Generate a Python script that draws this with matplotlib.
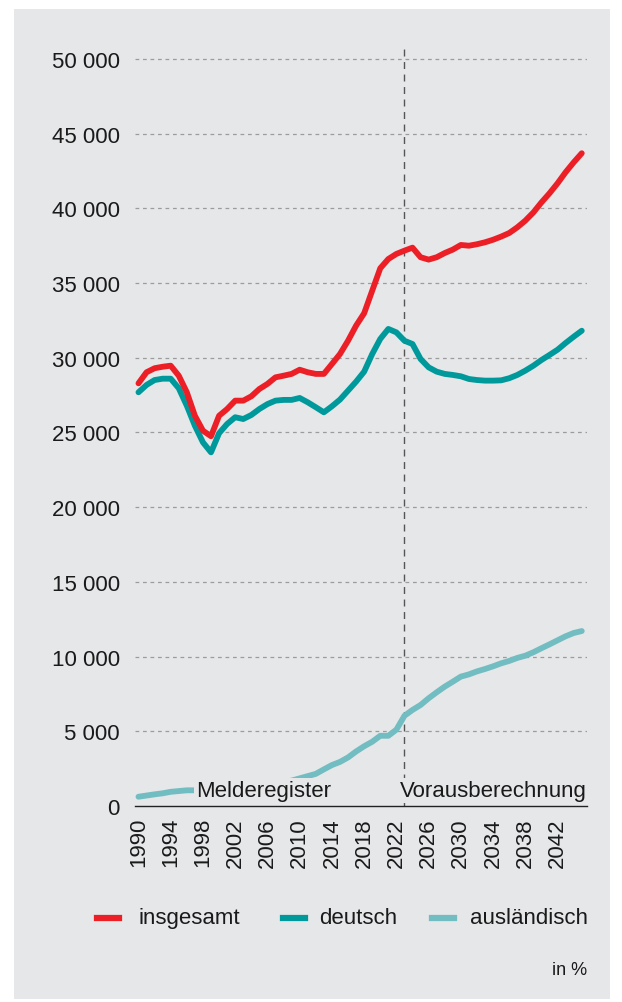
"""
Bevölkerung nach Staatsangehörigkeit, 1990-2045
"""
import matplotlib
matplotlib.use("Agg")
import matplotlib.pyplot as plt
from matplotlib.patches import Rectangle
from matplotlib.ticker import FuncFormatter

# Daten
years = list(range(1990, 2046))
insgesamt = [
    28290, 29030, 29300, 29400, 29470, 28800, 27690, 26120, 25120, 24750,
    26120, 26570, 27130, 27130, 27420, 27910, 28250, 28690, 28800, 28920,
    29200, 29030, 28920, 28920, 29580, 30250, 31140, 32150, 32980, 34490,
    35990, 36610, 36950, 37170, 37370, 36730, 36570, 36730, 37010, 37240,
    37550, 37500, 37600, 37730, 37900, 38110, 38350, 38730, 39180, 39730,
    40400, 41010, 41680, 42420, 43080, 43690,
]
deutsch = [
    27690, 28180, 28510, 28600, 28600, 27960, 26790, 25450, 24340, 23670,
    24950, 25570, 26020, 25900, 26170, 26570, 26900, 27130, 27180, 27180,
    27310, 27020, 26690, 26350, 26750, 27200, 27800, 28400, 29070, 30250,
    31260, 31930, 31700, 31140, 30920, 29920, 29360, 29070, 28920, 28850,
    28760, 28580, 28510, 28470, 28470, 28490, 28630, 28850, 29140, 29470,
    29850, 30190, 30540, 30990, 31410, 31810,
]
auslaendisch = [
    620, 700, 780, 850, 950, 1000, 1050, 1050, 1050, 1100,
    1150, 1200, 1250, 1300, 1300, 1350, 1400, 1500, 1600, 1700,
    1850, 2000, 2150, 2450, 2740, 2950, 3250, 3650, 4000, 4300,
    4700, 4700, 5110, 6040, 6430, 6760, 7210, 7610, 7990, 8320,
    8660, 8810, 9010, 9170, 9350, 9550, 9710, 9910, 10060, 10290,
    10560, 10820, 11090, 11360, 11580, 11710,
]
year_ticks = list(range(1990, 2043, 4))
y_ticks = list(range(0, 50001, 5000))
prognose_start = 2023

BG = "#e6e7e9"
C_INS = "#ec1f27"
C_DE = "#00999b"
C_AUS = "#72bdc1"
TXT = "#1a1a1a"

plt.rcParams["font.family"] = ["Liberation Sans", "DejaVu Sans"]

W, H = 622, 1003
fig = plt.figure(figsize=(W / 100, H / 100), dpi=100)
fig.patch.set_facecolor("white")
fig.add_artist(Rectangle((14 / W, 1 - 1000 / H), (610 - 14) / W, (1000 - 10) / H,
                         transform=fig.transFigure, facecolor=BG, edgecolor="none", zorder=0))

ax = fig.add_axes([135 / W, 1 - 807 / H, (587 - 135) / W, (807 - 48) / H])
ax.set_facecolor(BG)
ax.patch.set_alpha(0)

ax.plot(years, auslaendisch, color=C_AUS, lw=4.2, solid_capstyle="round", zorder=3)
ax.plot(years, deutsch, color=C_DE, lw=4.2, solid_capstyle="round", zorder=4)
ax.plot(years, insgesamt, color=C_INS, lw=4.2, solid_capstyle="round", zorder=5)

ax.set_xlim(1989.57, 2045.65)
ax.set_ylim(0, 50800)

for y in y_ticks[1:]:
    ax.axhline(y, color="#9c9c9c", lw=0.9, ls=(0, (3, 3)), zorder=1)
ax.axvline(prognose_start, color="#555555", lw=1.0, ls=(0, (5, 4)), zorder=2)

ax.set_yticks(y_ticks)
ax.yaxis.set_major_formatter(FuncFormatter(lambda v, p: f"{int(v):,}".replace(",", " ")))
ax.set_xticks(year_ticks)
ax.set_xticklabels([str(y) for y in year_ticks], rotation=90)
ax.tick_params(axis="both", length=0, labelsize=16, colors=TXT)
ax.tick_params(axis="y", pad=11)
ax.tick_params(axis="x", pad=8)

for s in ["top", "right", "left"]:
    ax.spines[s].set_visible(False)
ax.spines["bottom"].set_color("#222222")
ax.spines["bottom"].set_linewidth(1.0)
ax.spines["bottom"].set_zorder(6)

ax.text(1997.2, 700, "Melderegister", fontsize=16, color=TXT, ha="left", va="baseline",
        zorder=6, bbox=dict(facecolor=BG, edgecolor="none", pad=1.5))
ax.text(2045.6, 700, "Vorausberechnung", fontsize=16, color=TXT, ha="right", va="baseline",
        zorder=6, bbox=dict(facecolor=BG, edgecolor="none", pad=1.5))

# Legende
legend_y = 1 - 919 / H
items = [(97, 139, C_INS, "insgesamt"), (283, 319, C_DE, "deutsch"), (432, 470, C_AUS, "ausländisch")]
for hx, tx, col, lab in items:
    fig.add_artist(plt.Line2D([hx / W, (hx + 22) / W], [legend_y, legend_y],
                              color=col, lw=4.5, transform=fig.transFigure, zorder=3))
    fig.text(tx / W, legend_y, lab, fontsize=16, color=TXT, ha="left", va="center")

fig.text(587 / W, 1 - 971 / H, "in %", fontsize=13, color=TXT, ha="right", va="center")

fig.savefig("out.png", dpi=100)
